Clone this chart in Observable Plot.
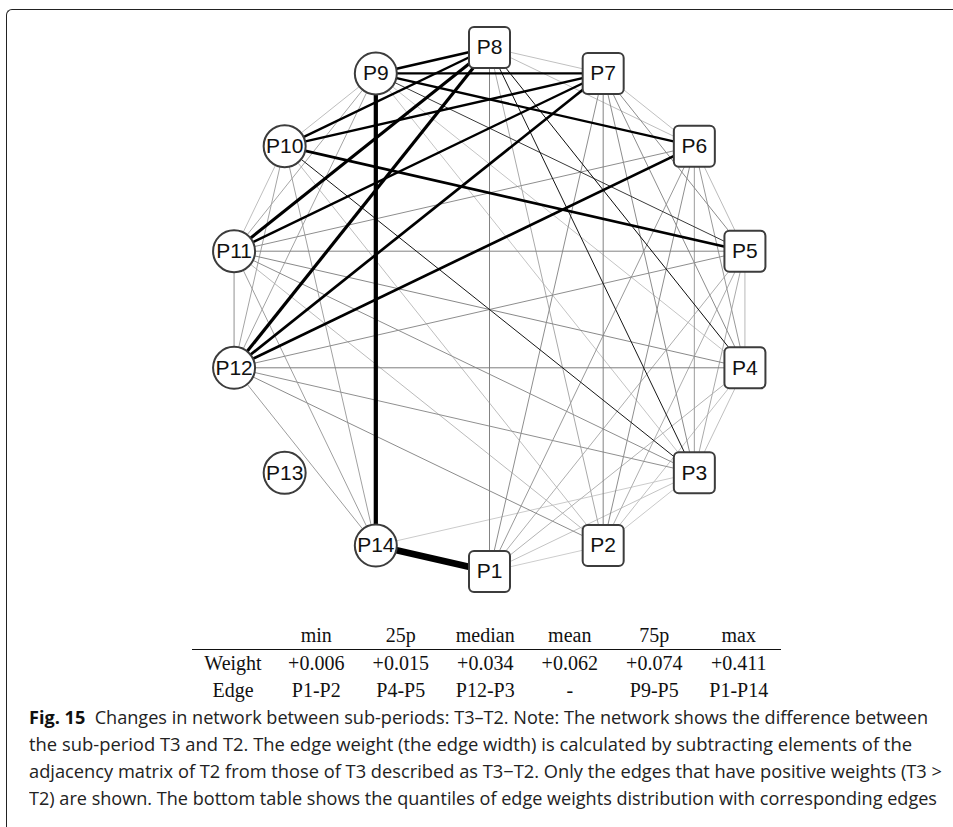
<!DOCTYPE html>
<html>
<head>
<meta charset="utf-8">
<script src="https://cdn.jsdelivr.net/npm/d3@7"></script>
<script src="https://cdn.jsdelivr.net/npm/@observablehq/plot@0.6"></script>
<style>
  html, body { margin: 0; padding: 0; background: #fff; }
  body { width: 953px; height: 827px; position: relative; overflow: hidden; }
  #frame { position: absolute; left: 6px; top: 9px; width: 1000px; height: 900px;
           border-top: 1.4px solid #222; border-left: 1.4px solid #222; border-top-left-radius: 6px; box-sizing: border-box; }
  #net { position: absolute; left: 0; top: 0; }
  #stats { position: absolute; left: 192px; top: 622px; border-collapse: collapse;
           font-family: "Liberation Serif", "DejaVu Serif", serif; font-size: 20px; color: #111; }
  #stats td, #stats th { padding: 0; height: 27px; line-height: 27px; text-align: center; font-weight: normal; white-space: nowrap; }
  #stats td, #stats th { width: 84.5px; }
  #stats td:first-child, #stats th:first-child { width: 82px; }
  #stats thead tr { border-bottom: 1.3px solid #111; }
  #cap { position: absolute; left: 29px; top: 704px; font-family: "Open Sans", "Noto Sans", sans-serif;
         font-size: 18px; line-height: 27px; color: #222; }
  #cap .ln { display: block; white-space: pre; transform-origin: 0 50%; width: max-content; }
  #cap b { font-weight: 700; color: #111; }
</style>
</head>
<body>
<div id="frame"></div>
<div id="net"></div>
<table id="stats"><thead></thead><tbody></tbody></table>
<div id="cap"></div>
<script>
// Nodes of the difference network, placed counter-clockwise from the bottom of a circle
const nodeNames = ["P1","P2","P3","P4","P5","P6","P7","P8","P9","P10","P11","P12","P13","P14"];
const squareNodes = ["P1","P2","P3","P4","P5","P6","P7","P8"];

// Positive edge weights of T3 − T2 (edges with T3 > T2 only)
const edgeFrom = [
  // strong
  "P1","P9","P8","P8","P8","P7","P6","P10","P7","P9","P8","P7","P7",
  // moderate
  "P8","P8","P10","P9",
  // weak
  "P1","P14","P2","P1","P9","P9","P2","P3","P6","P7","P6","P9","P10","P2","P2","P5",
  "P4",
  "P1","P1","P2","P2","P3","P9","P9","P10","P10","P11","P12","P3","P4","P1",
  "P12","P11",
  "P1","P1","P2","P2","P3","P3","P4","P4","P4","P5","P5","P5","P6","P2"
];
const edgeTo = [
  "P14","P14","P11","P12","P9","P12","P12","P5","P9","P6","P10","P10","P11",
  "P4","P3","P3","P5",
  "P2","P3","P3","P3","P3","P4","P4","P4","P7","P8","P8","P10","P11","P10","P11","P6",
  "P5",
  "P4","P5","P5","P8","P5","P11","P12","P12","P14","P14","P14","P6","P6","P6",
  "P3","P12",
  "P7","P8","P7","P12","P7","P11","P7","P11","P12","P7","P11","P12","P11","P6"
];
const edgeWeight = [
  0.411,0.261,0.200,0.200,0.170,0.170,0.170,0.170,0.150,0.150,0.150,0.150,0.150,
  0.095,0.090,0.090,0.074,
  0.006,0.007,0.008,0.010,0.010,0.010,0.011,0.012,0.012,0.012,0.013,0.013,0.013,0.013,0.014,0.014,
  0.015,
  0.018,0.020,0.020,0.022,0.022,0.024,0.025,0.025,0.026,0.027,0.028,0.028,0.030,0.030,
  0.034,0.034,
  0.035,0.040,0.040,0.036,0.036,0.035,0.036,0.037,0.042,0.036,0.040,0.035,0.035,0.035
];

// Quantile table under the network
const statNames = ["min","25p","median","mean","75p","max"];
const statWeights = ["+0.006","+0.015","+0.034","+0.062","+0.074","+0.411"];
const statEdges = ["P1-P2","P4-P5","P12-P3","-","P9-P5","P1-P14"];

const captionLines = [
  "Changes in network between sub-periods: T3–T2. Note: The network shows the difference between",
  "the sub-period T3 and T2. The edge weight (the edge width) is calculated by subtracting elements of the",
  "adjacency matrix of T2 from those of T3 described as T3−T2. Only the edges that have positive weights (T3 >",
  "T2) are shown. The bottom table shows the quantiles of edge weights distribution with corresponding edges"
];

// circle layout
const step = 2 * Math.PI / nodeNames.length;
const nodes = nodeNames.map((name, i) => ({
  name,
  x: Math.cos(-Math.PI / 2 + i * step),
  y: Math.sin(-Math.PI / 2 + i * step),
  square: squareNodes.includes(name)
}));
const pos = new Map(nodes.map(d => [d.name, d]));

// edges above the cut grow in width, edges below it stay thin and fade
const maxW = d3.max(edgeWeight);
const cut = 0.1;
const widthScale = w => w < cut ? 1 : 1.5 + (w - cut) / (maxW - cut) * 5.3;

const edges = edgeFrom.map((f, i) => ({
  from: f, to: edgeTo[i], w: edgeWeight[i],
  x1: pos.get(f).x, y1: pos.get(f).y, x2: pos.get(edgeTo[i]).x, y2: pos.get(edgeTo[i]).y
})).sort((a, b) => a.w - b.w);

// rounded square node symbol
const roundedSquare = {
  draw(context, size) {
    const s = Math.sqrt(size / Math.PI);
    const k = 5;
    context.moveTo(-s + k, -s);
    context.lineTo(s - k, -s);
    context.arcTo(s, -s, s, -s + k, k);
    context.lineTo(s, s - k);
    context.arcTo(s, s, s - k, s, k);
    context.lineTo(-s + k, s);
    context.arcTo(-s, s, -s, s - k, k);
    context.lineTo(-s, -s + k);
    context.arcTo(-s, -s, -s + k, -s, k);
    context.closePath();
  }
};

const chart = Plot.plot({
  width: 953,
  height: 610,
  marginLeft: 227,
  marginRight: 202,
  marginTop: 47,
  marginBottom: 39,
  x: {domain: [-1, 1], axis: null},
  y: {domain: [-1, 1], axis: null},
  color: {type: "linear", domain: [0, cut], range: ["#dadada", "#000000"], clamp: true},
  marks: [
    Plot.link(edges, {
      x1: "x1", y1: "y1", x2: "x2", y2: "y2",
      stroke: "w",
      strokeWidth: d => widthScale(d.w),
      strokeLinecap: "butt"
    }),
    Plot.dot(nodes.filter(d => !d.square), {
      x: "x", y: "y", r: 21, fill: "white", stroke: "#3c3c3c", strokeWidth: 2
    }),
    Plot.dot(nodes.filter(d => d.square), {
      x: "x", y: "y", r: 20.5, symbol: roundedSquare, fill: "white", stroke: "#3c3c3c", strokeWidth: 2
    }),
    Plot.text(nodes, {
      x: "x", y: "y", text: "name", fontSize: 21, fill: "#111",
      fontFamily: "Liberation Sans, Arial, sans-serif"
    })
  ]
});
document.getElementById("net").appendChild(chart);

// table
const thead = document.querySelector("#stats thead");
const hr = document.createElement("tr");
["", ...statNames].forEach(t => { const th = document.createElement("th"); th.textContent = t; hr.appendChild(th); });
thead.appendChild(hr);
const tbody = document.querySelector("#stats tbody");
[["Weight", statWeights], ["Edge", statEdges]].forEach(([label, vals]) => {
  const tr = document.createElement("tr");
  [label, ...vals].forEach(t => { const td = document.createElement("td"); td.textContent = t; tr.appendChild(td); });
  tbody.appendChild(tr);
});

// caption, each line fitted to its set width
const cap = document.getElementById("cap");
const lineEnds = [928, 912, 942, 937];
captionLines.forEach((t, i) => {
  const s = document.createElement("span");
  s.className = "ln";
  if (i === 0) {
    const b = document.createElement("b");
    b.textContent = "Fig. 15";
    s.appendChild(b);
    s.appendChild(document.createTextNode("  " + t));
  } else {
    s.textContent = t;
  }
  cap.appendChild(s);
  const target = lineEnds[i] - 29;
  const w = s.getBoundingClientRect().width;
  s.style.transform = `scaleX(${target / w})`;
});
</script>
</body>
</html>
